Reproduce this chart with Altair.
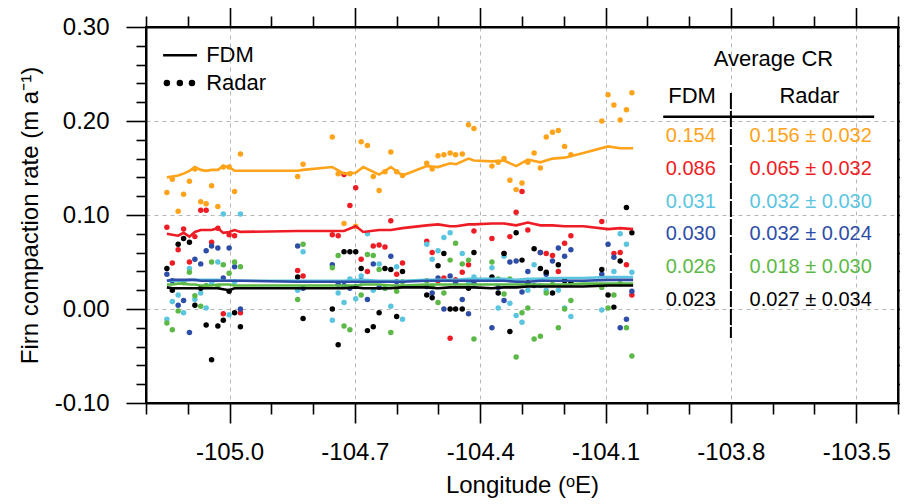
import altair as alt
import pandas as pd

FONT = "Liberation Sans"

# ---------------- data ----------------
series = ["orange", "red", "cyan", "blue", "green", "black"]
colors = ["#FFA31A", "#EE1C25", "#5BC5E0", "#2E4DA7", "#5DB947", "#000000"]

# FDM modelled compaction rates (lines)
fdm_lon = [-105.150, -105.137, -105.123, -105.110, -105.096, -105.083, -105.069, -105.056,
           -105.043, -105.028, -105.015, -105.001, -104.988, -104.974, -104.837, -104.824,
           -104.754, -104.726, -104.698, -104.680, -104.642, -104.614, -104.586, -104.528,
           -104.501, -104.472, -104.458, -104.428, -104.415, -104.372, -104.343, -104.314,
           -104.286, -104.256, -104.227, -104.198, -104.153, -104.094, -104.065, -104.034]
fdm_orange = [0.140, 0.141, 0.142, 0.144, 0.147, 0.151, 0.148, 0.147, 0.148, 0.148,
              0.152, 0.151, 0.147, 0.147, 0.147, 0.148, 0.151, 0.144, 0.145, 0.151,
              0.143, 0.151, 0.142, 0.152, 0.151, 0.155, 0.154, 0.160, 0.158, 0.157,
              0.158, 0.152, 0.159, 0.156, 0.160, 0.161, 0.166, 0.173, 0.171, 0.171]
fdm_red = [0.080, 0.079, 0.078, 0.081, 0.077, 0.082, 0.084, 0.084, 0.084, 0.086,
           0.081, 0.082, 0.084, 0.082, 0.083, 0.083, 0.083, 0.083, 0.088, 0.082,
           0.084, 0.084, 0.086, 0.089, 0.090, 0.088, 0.088, 0.090, 0.090, 0.091,
           0.091, 0.089, 0.092, 0.089, 0.089, 0.088, 0.088, 0.085, 0.086, 0.085]
fdm_cyan = [0.030, 0.030, 0.030, 0.030, 0.031, 0.031, 0.031, 0.031, 0.031, 0.031,
            0.030, 0.030, 0.030, 0.030, 0.030, 0.030, 0.030, 0.030, 0.031, 0.031,
            0.030, 0.030, 0.030, 0.031, 0.031, 0.031, 0.031, 0.032, 0.032, 0.032,
            0.032, 0.031, 0.032, 0.032, 0.033, 0.033, 0.033, 0.034, 0.034, 0.034]
fdm_blue = [0.030, 0.031, 0.031, 0.031, 0.031, 0.031, 0.030, 0.030, 0.030, 0.030,
            0.030, 0.030, 0.030, 0.030, 0.029, 0.029, 0.029, 0.029, 0.029, 0.029,
            0.029, 0.029, 0.029, 0.030, 0.030, 0.030, 0.030, 0.030, 0.030, 0.030,
            0.030, 0.029, 0.029, 0.030, 0.030, 0.030, 0.030, 0.031, 0.031, 0.031]
fdm_green = [0.026, 0.026, 0.027, 0.027, 0.026, 0.026, 0.025, 0.025, 0.025, 0.026,
             0.026, 0.026, 0.025, 0.025, 0.025, 0.025, 0.025, 0.025, 0.025, 0.026,
             0.026, 0.025, 0.025, 0.026, 0.026, 0.026, 0.026, 0.026, 0.026, 0.026,
             0.026, 0.026, 0.026, 0.026, 0.026, 0.026, 0.027, 0.027, 0.027, 0.027]
fdm_black = [0.023, 0.022, 0.022, 0.022, 0.022, 0.022, 0.022, 0.022, 0.022, 0.022,
             0.021, 0.020, 0.022, 0.022, 0.022, 0.022, 0.022, 0.022, 0.023, 0.022,
             0.022, 0.022, 0.023, 0.023, 0.022, 0.023, 0.023, 0.023, 0.023, 0.022,
             0.023, 0.023, 0.024, 0.024, 0.024, 0.024, 0.024, 0.025, 0.025, 0.025]

# Radar-derived compaction rates (dots)
radar_lon = [-105.150, -105.137, -105.123, -105.110, -105.096, -105.083, -105.069, -105.056,
             -105.043, -105.028, -105.015, -105.001, -104.988, -104.974, -104.837, -104.824,
             -104.754, -104.740, -104.726, -104.712, -104.698, -104.685, -104.670, -104.656,
             -104.642, -104.628, -104.614, -104.600, -104.586, -104.528, -104.515, -104.501,
             -104.487, -104.472, -104.459,
             -104.443, -104.428, -104.415, -104.372, -104.357, -104.343, -104.329, -104.314,
             -104.300, -104.286, -104.271, -104.256, -104.242, -104.227, -104.213, -104.198,
             -104.183, -104.109, -104.094, -104.080, -104.065, -104.050, -104.037]
radar_orange = [0.124, 0.138, 0.104, 0.122, 0.136, 0.149, 0.114, 0.112, 0.131, 0.109, 0.151, 0.151,
                0.125, 0.165, 0.141, 0.154,
                0.183, 0.144, 0.091, 0.144, 0.088, 0.178, 0.174, 0.141, 0.126, 0.146, 0.167, 0.146,
                0.142, 0.155, 0.149, 0.163, 0.164, 0.166, 0.164,
                0.165, 0.196, 0.192, 0.152, 0.156, 0.160, 0.137, 0.127, 0.134, 0.156, 0.166, 0.150,
                0.183, 0.188, 0.190, 0.173, 0.164, 0.200, 0.228, 0.217, 0.201, 0.212, 0.230]
radar_red = [0.087, 0.049, 0.063, 0.085, 0.050, 0.077, 0.105, 0.105, 0.071, 0.086, -0.005, 0.079,
             0.078, -0.004, 0.041, 0.035,
             0.079, 0.078, 0.143, 0.110, 0.129, 0.053, 0.040, 0.067, 0.068, 0.066, 0.094, 0.037,
             0.049, 0.072, 0.060, 0.030, 0.033, -0.031, 0.031,
             0.039, 0.047, 0.083, 0.075, None, 0.059, 0.077, 0.103, 0.125, 0.084, None, 0.060,
             0.059, 0.057, 0.040, 0.070, 0.078, 0.093, None, 0.059, 0.060, 0.047, 0.015]
radar_cyan = [-0.011, 0.008, 0.015, -0.004, 0.043, 0.010, 0.017, 0.001, 0.028, 0.050, 0.101, -0.006,
              0.029, 0.101, 0.020, 0.061,
              -0.012, 0.017, 0.007, 0.032, 0.011, 0.035, 0.080, 0.020, 0.048, 0.022, 0.003, 0.045,
              -0.011, 0.069, 0.053, 0.062, 0.076, 0.081, None,
              0.059, 0.029, 0.034, 0.044, 0.001, 0.056, 0.006, -0.007, -0.014, 0.020, 0.047, 0.025,
              0.020, None, 0.020, 0.001, -0.008, -0.001, None, 0.040, 0.080, 0.069, 0.039]
radar_blue = [0.037, 0.030, 0.004, 0.009, -0.025, 0.053, 0.048, 0.062, 0.067, 0.065, 0.033, 0.065,
              0.045, 0.000, 0.067, 0.022,
              0.047, 0.026, 0.025, 0.022, 0.024, 0.030, 0.010, 0.048, 0.023, None, 0.056, 0.029,
              None, 0.024, 0.017, 0.033, 0.000, 0.035, 0.028,
              0.010, -0.005, 0.028, -0.020, 0.023, 0.009, 0.050, 0.051, 0.018, 0.040, 0.025, 0.060,
              0.037, 0.051, 0.065, 0.056, 0.063, 0.037, 0.069, 0.055, -0.020, -0.011, 0.019]
radar_green = [-0.015, -0.022, -0.002, 0.028, 0.039, 0.014, 0.003, 0.025, 0.050, 0.024, 0.047, 0.038,
               0.050, 0.045, 0.010, 0.069,
               0.044, 0.057, -0.018, -0.022, None, 0.015, 0.058, 0.057, 0.042, 0.022, -0.025, 0.019,
               0.029, 0.030, 0.024, 0.007, 0.017, 0.052, 0.070,
               0.048, 0.052, -0.032, 0.050, 0.032, 0.016, 0.032, -0.051, -0.004, 0.001, -0.032, -0.029,
               0.017, 0.026, -0.020, 0.000, 0.009, 0.023, 0.001, 0.015, 0.027, -0.020, -0.050]
radar_black = [0.043, 0.020, 0.069, 0.075, 0.071, 0.004, 0.022, -0.017, -0.054, -0.018, -0.012, 0.019,
               -0.004, -0.019, 0.034, -0.010,
               0.000, -0.038, 0.061, 0.061, 0.061, 0.043, -0.023, -0.019, -0.004, 0.043, 0.042, -0.008,
               0.040, 0.015, 0.012, 0.046, 0.059, 0.000, 0.000,
               0.000, 0.022, 0.060, 0.034, 0.017, 0.059, -0.024, 0.081, 0.052, 0.028, 0.064, 0.043,
               0.039, 0.017, 0.047, 0.030, 0.028, 0.042, 0.015, 0.002, 0.051, 0.108, 0.081]

# Average CR table
fdm_avg = ["0.154", "0.086", "0.031", "0.030", "0.026", "0.023"]
radar_avg = ["0.156", "0.065", "0.032", "0.032", "0.018", "0.027"]
radar_sd = ["0.032", "0.032", "0.030", "0.024", "0.030", "0.034"]

# axis tick values
major_x = [-105.0, -104.7, -104.4, -104.1, -103.8, -103.5]
minor_x = [-105.2, -105.1, -104.9, -104.8, -104.6, -104.5, -104.3, -104.2,
           -104.0, -103.9, -103.7, -103.6, -103.4]
major_y = [-0.1, 0.0, 0.1, 0.2, 0.3]
minor_y = [-0.08, -0.06, -0.04, -0.02, 0.02, 0.04, 0.06, 0.08,
           0.12, 0.14, 0.16, 0.18, 0.22, 0.24, 0.26, 0.28]

# ---------------- frames ----------------
fdm_vals = [fdm_orange, fdm_red, fdm_cyan, fdm_blue, fdm_green, fdm_black]
radar_vals = [radar_orange, radar_red, radar_cyan, radar_blue, radar_green, radar_black]

fdm_rows = []
for name, vals in zip(series, fdm_vals):
    for lo, v in zip(fdm_lon, vals):
        fdm_rows.append({"series": name, "lon": lo, "cr": v})
fdm_df = pd.DataFrame(fdm_rows)

radar_rows = []
for name, vals in zip(series, radar_vals):
    for lo, v in zip(radar_lon, vals):
        if v is not None:
            radar_rows.append({"series": name, "lon": lo, "cr": v})
radar_df = pd.DataFrame(radar_rows)

# table layout (data coordinates of the annotation block)
row_cr = [0.184, 0.149, 0.1142, 0.0795, 0.045, 0.0096]
tab_df = pd.DataFrame({
    "fdm_lon": [-103.896] * 6,
    "radar_lon": [-103.609] * 6,
    "cr": row_cr,
    "fdm_txt": fdm_avg,
    "radar_txt": [a + " \u00b1 " + s for a, s in zip(radar_avg, radar_sd)],
    "col": colors,
})
head_df = pd.DataFrame({
    "lon": [-103.698, -103.893, -103.612],
    "cr": [0.2656, 0.2266, 0.2266],
    "txt": ["Average CR", "FDM", "Radar"],
})
hline_df = pd.DataFrame({"lon": [-103.962], "lon2": [-103.457], "cr": [0.2046]})
vline_df = pd.DataFrame({"lon": [-103.800], "cr": [0.2298], "cr2": [-0.0308]})

leg_line_df = pd.DataFrame({"lon": [-105.159], "lon2": [-105.078], "cr": [0.270]})
leg_dot_df = pd.DataFrame({"lon": [-105.150, -105.119, -105.090], "cr": [0.2404] * 3})
leg_txt_df = pd.DataFrame({"lon": [-105.056, -105.056], "cr": [0.270, 0.2404],
                           "txt": ["FDM", "Radar"]})

# ---------------- scales & axes ----------------
xscale = alt.Scale(domain=[-105.2, -103.4], nice=False, zero=False)
yscale = alt.Scale(domain=[-0.1, 0.3], nice=False, zero=False)
cscale = alt.Scale(domain=series, range=colors)


def lab_expr(fmt):
    return "replace(format(datum.value, '" + fmt + "'), '\u2212', '-')"


tick_style = dict(tickColor="black", tickWidth=1.6)
frame_style = dict(domain=True, domainColor="black", domainWidth=2, zindex=2)
noframe = dict(domain=False)
grid_style = dict(grid=True, gridColor="#b8b8b8", gridDash=[4, 4], gridWidth=1)

ax_bottom = alt.Axis(orient="bottom", values=major_x, labelExpr=lab_expr(".1f"),
                     tickSize=20, labelPadding=17, labelFont=FONT, labelFontSize=24,
                     labelColor="black", labelFlush=False, labelOverlap=False,
                     title="Longitude (\u1d52E)", titleFont=FONT, titleFontSize=24,
                     titleFontWeight="normal", titleColor="black", titlePadding=9,
                     **grid_style, **noframe, **tick_style)
ax_bottom_minor = alt.Axis(orient="bottom", values=minor_x, labels=False, tickSize=11,
                           grid=False, title=None, **noframe, **tick_style)
ax_bottom_frame = alt.Axis(orient="bottom", values=major_x, labels=False, ticks=False,
                           grid=False, title=None, **frame_style)
ax_top = alt.Axis(orient="top", values=major_x, labels=False, tickSize=20,
                  grid=False, title=None, **frame_style, **tick_style)
ax_top_minor = alt.Axis(orient="top", values=minor_x, labels=False, tickSize=11,
                        grid=False, title=None, **noframe, **tick_style)

ax_left = alt.Axis(orient="left", values=major_y, labelExpr=lab_expr(".2f"),
                   tickSize=20, labelPadding=17, labelFont=FONT, labelFontSize=24,
                   labelColor="black", labelFlush=False, labelOverlap=False,
                   title="Firn compaction rate (m a\u207b\u00b9)", titleFont=FONT,
                   titleFontSize=24, titleFontWeight="normal", titleColor="black",
                   titlePadding=12, **grid_style, **noframe, **tick_style)
ax_left_minor = alt.Axis(orient="left", values=minor_y, labels=False, tickSize=10,
                         grid=False, title=None, **noframe, **tick_style)
ax_left_frame = alt.Axis(orient="left", values=major_y, labels=False, ticks=False,
                         grid=False, title=None, **frame_style)
ax_right = alt.Axis(orient="right", values=major_y, labels=False, tickSize=20,
                    grid=False, title=None, **frame_style, **tick_style)
ax_right_minor = alt.Axis(orient="right", values=minor_y, labels=False, tickSize=10,
                          grid=False, title=None, **noframe, **tick_style)

# ---------------- layers ----------------
points = alt.Chart(radar_df).mark_circle(size=30, opacity=1).encode(
    x=alt.X("lon:Q", scale=xscale, axis=ax_bottom),
    y=alt.Y("cr:Q", scale=yscale, axis=ax_left),
    color=alt.Color("series:N", scale=cscale, legend=None),
)

lines = alt.Chart(fdm_df).mark_line(strokeWidth=2.6).encode(
    x=alt.X("lon:Q", scale=xscale, axis=ax_bottom_minor),
    y=alt.Y("cr:Q", scale=yscale, axis=ax_left_minor),
    color=alt.Color("series:N", scale=cscale, legend=None),
    detail="series:N",
)

ghost1 = alt.Chart(fdm_df).mark_point(opacity=0).encode(
    x=alt.X("lon:Q", scale=xscale, axis=ax_top),
    y=alt.Y("cr:Q", scale=yscale, axis=ax_right),
)
ghost2 = alt.Chart(fdm_df).mark_point(opacity=0).encode(
    x=alt.X("lon:Q", scale=xscale, axis=ax_top_minor),
    y=alt.Y("cr:Q", scale=yscale, axis=ax_right_minor),
)
ghost3 = alt.Chart(fdm_df).mark_point(opacity=0).encode(
    x=alt.X("lon:Q", scale=xscale, axis=ax_bottom_frame),
    y=alt.Y("cr:Q", scale=yscale, axis=ax_left_frame),
)

fdm_text = alt.Chart(tab_df).mark_text(font=FONT, fontSize=20, align="center",
                                       baseline="middle").encode(
    x=alt.X("fdm_lon:Q", scale=xscale, axis=None),
    y=alt.Y("cr:Q", scale=yscale, axis=None),
    text="fdm_txt:N",
    color=alt.Color("col:N", scale=None),
)
radar_text = alt.Chart(tab_df).mark_text(font=FONT, fontSize=20, align="center",
                                         baseline="middle").encode(
    x=alt.X("radar_lon:Q", scale=xscale, axis=None),
    y=alt.Y("cr:Q", scale=yscale, axis=None),
    text="radar_txt:N",
    color=alt.Color("col:N", scale=None),
)
head_text = alt.Chart(head_df).mark_text(font=FONT, fontSize=22, align="center",
                                         baseline="middle", color="black").encode(
    x=alt.X("lon:Q", scale=xscale, axis=None),
    y=alt.Y("cr:Q", scale=yscale, axis=None),
    text="txt:N",
)
hline = alt.Chart(hline_df).mark_rule(color="black", strokeWidth=2.5).encode(
    x=alt.X("lon:Q", scale=xscale, axis=None),
    x2="lon2:Q",
    y=alt.Y("cr:Q", scale=yscale, axis=None),
)
vline = alt.Chart(vline_df).mark_rule(color="black", strokeWidth=2,
                                      strokeDash=[16, 2]).encode(
    x=alt.X("lon:Q", scale=xscale, axis=None),
    y=alt.Y("cr:Q", scale=yscale, axis=None),
    y2="cr2:Q",
)
leg_line = alt.Chart(leg_line_df).mark_rule(color="black", strokeWidth=2.5).encode(
    x=alt.X("lon:Q", scale=xscale, axis=None),
    x2="lon2:Q",
    y=alt.Y("cr:Q", scale=yscale, axis=None),
)
leg_dots = alt.Chart(leg_dot_df).mark_circle(size=42, opacity=1, color="black").encode(
    x=alt.X("lon:Q", scale=xscale, axis=None),
    y=alt.Y("cr:Q", scale=yscale, axis=None),
)
leg_text = alt.Chart(leg_txt_df).mark_text(font=FONT, fontSize=22, align="left",
                                           baseline="middle", color="black").encode(
    x=alt.X("lon:Q", scale=xscale, axis=None),
    y=alt.Y("cr:Q", scale=yscale, axis=None),
    text="txt:N",
)

chart = alt.layer(
    points, lines, ghost1, ghost2, ghost3,
    hline, vline, head_text, fdm_text, radar_text,
    leg_line, leg_dots, leg_text,
).resolve_axis(
    x="independent", y="independent"
).properties(
    width=752, height=376,
    padding={"left": 138, "top": 19, "right": 2, "bottom": 97},
    autosize=alt.AutoSizeParams(type="none"),
    background="white",
).configure_view(
    stroke="black", strokeWidth=2,
)

chart.save("out.html", embed_options={"renderer": "svg", "actions": False})
